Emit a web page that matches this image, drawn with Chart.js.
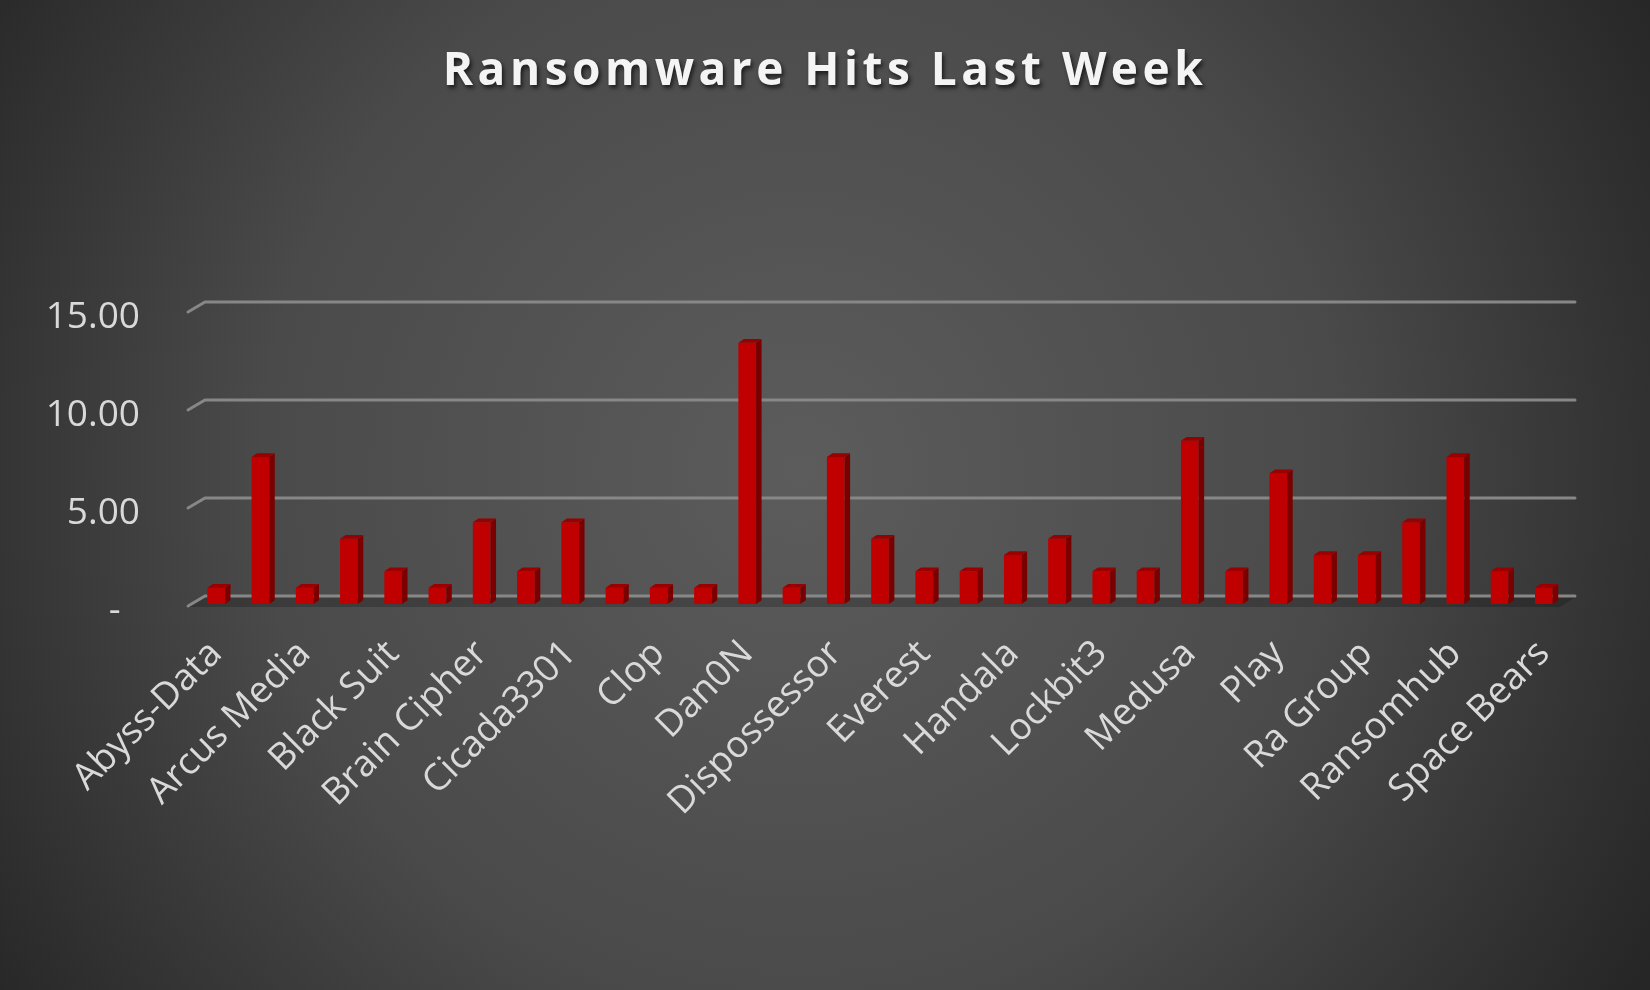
<!DOCTYPE html>
<html>
<head>
<meta charset="utf-8">
<title>Ransomware Hits Last Week</title>
<script src="https://cdn.jsdelivr.net/npm/chart.js@4.4.1/dist/chart.umd.min.js"></script>
<style>
  html, body { margin: 0; padding: 0; background: #3a3a3a; }
  canvas { display: block; }
</style>
</head>
<body>
<canvas id="graf" width="1650" height="990"></canvas>
<script>
// only every other group name is printed on the axis, the rest stay blank
let grupos = ['Abyss-Data', '', 'Arcus Media', '', 'Black Suit', '', 'Brain Cipher', '', 'Cicada3301', '',
    'Clop', '', 'Dan0N', '', 'Dispossessor', '', 'Everest', '', 'Handala', '', 'Lockbit3', '',
    'Medusa', '', 'Play', '', 'Ra Group', '', 'Ransomhub', '', 'Space Bears']
let ataques = [0.83, 7.5, 0.83, 3.33, 1.67, 0.83, 4.17, 1.67, 4.17, 0.83, 0.83, 0.83, 13.33, 0.83, 7.5, 3.33,
    1.67, 1.67, 2.5, 3.33, 1.67, 1.67, 8.33, 1.67, 6.67, 2.5, 2.5, 4.17, 7.5, 1.67, 0.83]
let ticksY = [0, 5, 10, 15]
let titulo = 'Ransomware Hits Last Week'

const fonte = "'Open Sans', 'DejaVu Sans', sans-serif"

// fundo com gradiente radial
const fundo = {
    id: 'fundo',
    beforeDraw(chart) {
        const ctx = chart.ctx
        const g = ctx.createRadialGradient(800, 470, 0, 800, 470, 980)
        g.addColorStop(0, '#5c5c5c')
        g.addColorStop(0.55, '#4a4a4a')
        g.addColorStop(1, '#262626')
        ctx.save()
        ctx.fillStyle = g
        ctx.fillRect(0, 0, chart.width, chart.height)
        ctx.restore()
    }
}

// linhas de grade na parede de tras + piso escuro
const grade = {
    id: 'grade',
    beforeDatasetsDraw(chart) {
        const ctx = chart.ctx
        const y = chart.scales.y
        const area = chart.chartArea
        const dx = 11, dy = 8
        ctx.save()
        // piso
        const y0 = y.getPixelForValue(0)
        ctx.fillStyle = 'rgba(0,0,0,0.2)'
        ctx.beginPath()
        ctx.moveTo(area.left + dx, y0 - dy)
        ctx.lineTo(area.right + dx, y0 - dy)
        ctx.lineTo(area.right - 6, y0 + 3)
        ctx.lineTo(area.left - 6, y0 + 3)
        ctx.closePath()
        ctx.fill()

        ctx.strokeStyle = '#878787'
        ctx.lineWidth = 3
        ctx.lineCap = 'round'
        for (let i = 0; i < ticksY.length; i++) {
            const py = y.getPixelForValue(ticksY[i]) - dy
            ctx.beginPath()
            ctx.moveTo(area.left - 6, py + 10)
            ctx.lineTo(area.left + dx, py)
            ctx.lineTo(area.right + 9, py)
            ctx.stroke()
        }
        ctx.restore()
    }
}

// faces lateral e superior das barras (efeito 3D)
const barras3d = {
    id: 'barras3d',
    afterDatasetsDraw(chart) {
        const ctx = chart.ctx
        const meta = chart.getDatasetMeta(0)
        const dx = 5.5, dy = 3.7
        ctx.save()
        meta.data.forEach(bar => {
            const p = bar.getProps(['x', 'y', 'base', 'width'], true)
            const esq = p.x - p.width / 2
            const dir = p.x + p.width / 2
            ctx.fillStyle = '#7a0000'
            ctx.beginPath()
            ctx.moveTo(dir, p.y)
            ctx.lineTo(dir + dx, p.y - dy)
            ctx.lineTo(dir + dx, p.base - dy)
            ctx.lineTo(dir, p.base)
            ctx.closePath()
            ctx.fill()
            ctx.fillStyle = '#9a0000'
            ctx.beginPath()
            ctx.moveTo(esq, p.y)
            ctx.lineTo(esq + dx, p.y - dy)
            ctx.lineTo(dir + dx, p.y - dy)
            ctx.lineTo(dir, p.y)
            ctx.closePath()
            ctx.fill()
        })
        ctx.restore()
    }
}

// titulo com espacamento entre letras e sombra
const tituloPlugin = {
    id: 'tituloPlugin',
    afterDraw(chart) {
        const ctx = chart.ctx
        ctx.save()
        ctx.font = "bold 46px " + fonte
        ctx.letterSpacing = '4.5px'
        ctx.textAlign = 'center'
        ctx.textBaseline = 'alphabetic'
        ctx.shadowColor = 'rgba(0,0,0,0.65)'
        ctx.shadowOffsetX = 2
        ctx.shadowOffsetY = 3
        ctx.shadowBlur = 4
        ctx.fillStyle = '#f4f4f4'
        ctx.fillText(titulo, 825, 85)
        ctx.restore()
    }
}

let ctx = document.getElementById('graf').getContext('2d')

const config = {
    type: 'bar',
    data: {
        labels: grupos,
        datasets: [{
            label: 'Hits',
            data: ataques,
            backgroundColor: '#c00000',
            borderWidth: 0,
            barPercentage: 0.4,
            categoryPercentage: 1
        }]
    },
    options: {
        responsive: false,
        devicePixelRatio: 1,
        animation: false,
        layout: { padding: { top: 310, right: 84, left: 0, bottom: 0 } },
        plugins: {
            legend: { display: false },
            title: { display: false },
            tooltip: { enabled: false }
        },
        scales: {
            x: {
                grid: { display: false },
                border: { display: false },
                afterFit: (s) => { s.height = 386 },
                ticks: {
                    autoSkip: false,
                    maxRotation: 45,
                    minRotation: 45,
                    padding: 20,
                    color: '#d9d9d9',
                    font: { family: fonte, size: 37 }
                }
            },
            y: {
                min: 0,
                max: 15,
                grid: { display: false },
                border: { display: false },
                afterFit: (s) => { s.width = 194 },
                afterBuildTicks: (s) => { s.ticks = ticksY.map(v => ({ value: v })) },
                ticks: {
                    padding: 46,
                    labelOffset: 7,
                    color: '#d9d9d9',
                    font: { family: fonte, size: 37 },
                    callback: (v) => v === 0 ? '-  ' : v.toFixed(2)
                }
            }
        }
    },
    plugins: [fundo, grade, barras3d, tituloPlugin]
}

let meuGrafico = new Chart(ctx, config)
</script>
</body>
</html>
